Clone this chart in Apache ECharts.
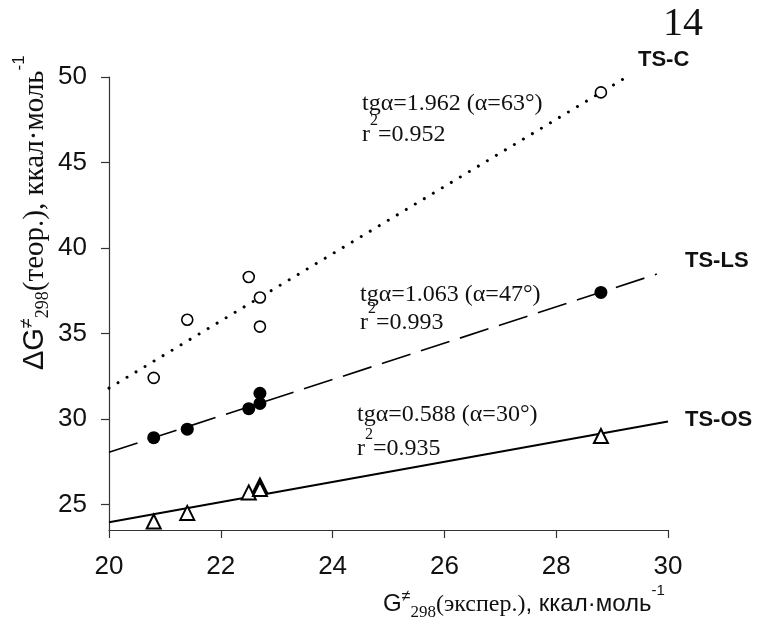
<!DOCTYPE html>
<html><head><meta charset="utf-8">
<script src="https://cdn.jsdelivr.net/npm/echarts@6/dist/echarts.min.js"></script>
<style>html,body{margin:0;padding:0;background:#fff}#c{width:757px;height:627px}</style>
</head><body><div id="c"></div>
<script>
// ---- data ----
const xTicks = [20, 22, 24, 26, 28, 30];
const yTicks = [25, 30, 35, 40, 45, 50];
const expX = [20.8, 21.4, 22.5, 22.7, 22.7, 28.8];
const tsC_y = [32.4, 35.8, 38.3, 37.1, 35.4, 49.1];
const tsLS_y = [28.9, 29.4, 30.6, 31.5, 30.9, 37.4];
const tsOS_y = [24.0, 24.5, 25.7, 26.1, 25.9, 29.0];
const fitC = [[20, 31.8], [29.26, 50]];
const fitLS = [[20, 28.05], [29.8, 38.47]];
const fitOS = [[20, 23.95], [30, 29.85]];
const seriesNames = ['TS-C', 'TS-LS', 'TS-OS'];
const annTg = ['tgα=1.962 (α=63°)', 'tgα=1.063 (α=47°)', 'tgα=0.588 (α=30°)'];
const annR2 = ['=0.952', '=0.993', '=0.935'];

const SERIF = '"Liberation Serif","Times New Roman",serif';
const SANS = '"Liberation Sans",Arial,sans-serif';
const INK = '#111';

function pts(xs, ys) { return xs.map((x, i) => [x, ys[i]]); }
function tok(family, size, padTop, weight) {
  return { fontFamily: family, fontSize: size, fontWeight: weight || 'normal',
    verticalAlign: 'top', padding: [padTop, 0, 0, 0], fill: INK, color: INK };
}

const chart = echarts.init(document.getElementById('c'));

const graphics = [];
// page number
graphics.push({ type: 'text', x: 663, y: 24.5, style: { text: '14', fontFamily: SERIF, fontSize: 40, fill: INK, align: 'left', verticalAlign: 'middle' } });
// series labels
const labPos = [[638, 60], [685, 261], [685, 420]];
seriesNames.forEach((n, i) => graphics.push({ type: 'text', x: labPos[i][0], y: labPos[i][1],
  style: { text: n, fontFamily: SANS, fontSize: 22, fontWeight: 'bold', fill: INK, align: 'left', verticalAlign: 'middle' } }));
// annotations
const annPos = [[362, 104, 135], [360, 295, 323], [357, 415, 449]];
annTg.forEach((t, i) => {
  const [ax, c1, c2] = annPos[i];
  graphics.push({ type: 'text', x: ax, y: c1, style: { text: t, fontFamily: SERIF, fontSize: 24, fill: INK, align: 'left', verticalAlign: 'middle' } });
  graphics.push({ type: 'text', x: ax, y: c2 - 30, style: {
    text: '{b|r}{s|2}{b|' + annR2[i] + '}', align: 'left', verticalAlign: 'top',
    rich: { b: tok(SERIF, 24, 18), s: tok(SERIF, 16, 7.5) } } });
});
// x axis title
graphics.push({ type: 'text', x: 383, y: 575, style: {
  text: '{g|G}{ne|≠}{sub|298}{t|(экспер.)}{s|, ккал·моль}{sup|-1}', align: 'left', verticalAlign: 'top',
  rich: { g: tok(SANS, 24, 17.7), ne: tok(SANS, 16, 14), sub: tok(SERIF, 17, 29.5),
          t: tok(SERIF, 24, 17.9), s: tok(SANS, 24, 17.7), sup: tok(SANS, 15, 8.5) } } });
// y axis title (rotated)
graphics.push({ type: 'text', x: 0, y: 370, rotation: Math.PI / 2, style: {
  text: '{g|ΔG}{ne|≠}{sub|298}{t|(теор.), ккал·моль}{sup|-1}', align: 'left', verticalAlign: 'top',
  rich: { g: tok(SANS, 29, 20.3), ne: tok(SANS, 18, 18), sub: tok(SERIF, 18, 34.7),
          t: tok(SERIF, 29, 20.7), sup: tok(SANS, 17, 10.5) } } });

const axisCommon = {
  axisLine: { show: true, lineStyle: { color: '#333', width: 1.2 } },
  axisTick: { show: true, inside: false, length: 8, lineStyle: { color: '#333', width: 1.2 } },
  splitLine: { show: false }
};

chart.setOption({
  backgroundColor: '#fff',
  animation: false,
  grid: { left: 109, right: 89, top: 77, bottom: 97, containLabel: false, outerBoundsMode: 'none' },
  xAxis: Object.assign({ type: 'value', min: 20, max: 30, interval: 2,
    axisLabel: { fontFamily: SANS, fontSize: 26, color: INK, margin: 24, customValues: xTicks } }, axisCommon,
    { axisTick: Object.assign({}, axisCommon.axisTick, { customValues: xTicks }) }),
  yAxis: Object.assign({ type: 'value', min: 23.5, max: 50,
    axisLabel: { fontFamily: SANS, fontSize: 26, color: INK, margin: 22, customValues: yTicks } }, axisCommon,
    { axisTick: Object.assign({}, axisCommon.axisTick, { customValues: yTicks }) }),
  graphic: graphics,
  series: [
    { name: 'fit TS-C', type: 'line', data: fitC, symbol: 'none', z: 2,
      lineStyle: { color: '#000', width: 3, type: [0.01, 10.5], cap: 'round' } },
    { name: 'fit TS-LS', type: 'line', data: fitLS, symbol: 'none', z: 2,
      lineStyle: { color: '#000', width: 1.6, type: [30, 11] } },
    { name: 'fit TS-OS', type: 'line', data: fitOS, symbol: 'none', z: 2,
      lineStyle: { color: '#000', width: 2 } },
    { name: 'TS-C', type: 'scatter', data: pts(expX, tsC_y), symbol: 'circle', symbolSize: 11, z: 3,
      itemStyle: { color: '#fff', borderColor: '#000', borderWidth: 1.6, opacity: 1 } },
    { name: 'TS-LS', type: 'scatter', data: pts(expX, tsLS_y), symbol: 'circle', symbolSize: 13, z: 3,
      itemStyle: { color: '#000', opacity: 1 } },
    { name: 'TS-OS', type: 'scatter', data: pts(expX, tsOS_y), symbol: 'triangle', symbolSize: 14, z: 3,
      itemStyle: { color: '#fff', borderColor: '#000', borderWidth: 2, opacity: 1 } }
  ]
});
</script></body></html>
